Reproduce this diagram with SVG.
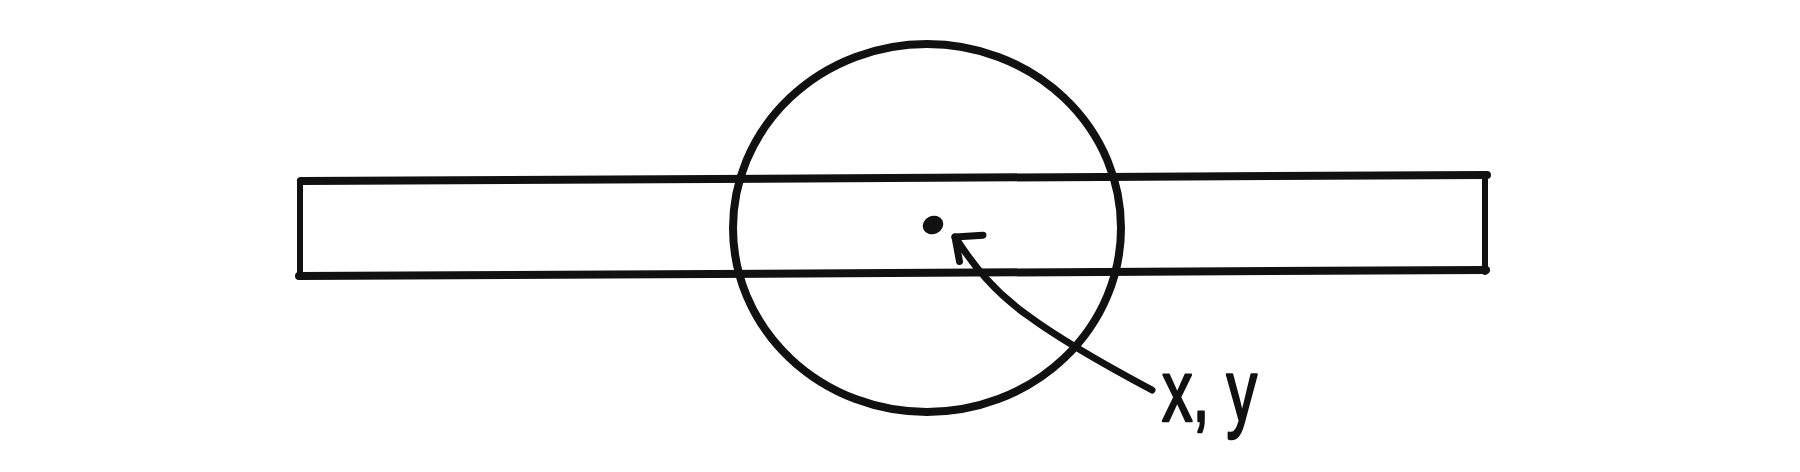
<svg xmlns="http://www.w3.org/2000/svg" width="1800" height="472" viewBox="0 0 1800 472">
  <style>
    .ink { fill: none; stroke: #111; stroke-linecap: round; stroke-linejoin: round; }
    .label { font-family: "Liberation Sans", Arial, sans-serif; font-size: 88px; fill: #111; stroke: #111; stroke-width: 2.5px; stroke-linejoin: round; }
  </style>
  <defs>
    <marker id="openHead" markerUnits="userSpaceOnUse" markerWidth="60" markerHeight="60" viewBox="-30 -30 60 60" refX="0" refY="0" orient="auto" overflow="visible">
      <path d="M-13.6,24.5 L0,0 L-23,-9.5" fill="none" stroke="#111" stroke-width="7" stroke-linecap="round" stroke-linejoin="round"/>
    </marker>
  </defs>
  <rect width="1800" height="472" fill="#fff"/>

  <g id="bar">
    <path class="ink" stroke-width="8" d="M301,181 L1487,175"/>
    <path class="ink" stroke-width="8" d="M299,276 L1486,270"/>
    <path class="ink" stroke-width="6" d="M300,181 L300,273"/>
    <path class="ink" stroke-width="6" d="M1485,177 L1485,272"/>
  </g>

  <g id="circle">
    <ellipse class="ink" stroke-width="8" cx="927" cy="228" rx="194" ry="184"/>
  </g>

  <g id="point">
    <ellipse cx="933" cy="225" rx="10.5" ry="9" transform="rotate(-25 933 225)" fill="#111"/>
  </g>

  <g id="connectors">
    <path class="ink" stroke-width="7" d="M1152,390 C1090,357 1050,332 1027,315 C995,292 975,268 955,237" marker-end="url(#openHead)"/>
  </g>

  <g id="label-xy">
    <text class="label" x="1162" y="421" textLength="95" lengthAdjust="spacingAndGlyphs">x, y</text>
  </g>
</svg>
